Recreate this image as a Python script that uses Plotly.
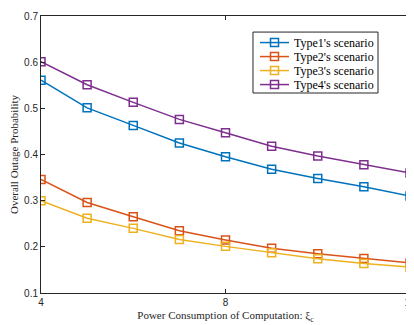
import plotly.graph_objects as go

x_vals = [4, 5, 6, 7, 8, 9, 10, 11, 12]
type1 = [0.561, 0.501, 0.463, 0.425, 0.395, 0.368, 0.348, 0.330, 0.310]
type2 = [0.346, 0.296, 0.265, 0.235, 0.215, 0.197, 0.185, 0.175, 0.165]
type3 = [0.300, 0.262, 0.240, 0.216, 0.201, 0.187, 0.174, 0.164, 0.156]
type4 = [0.601, 0.551, 0.513, 0.476, 0.447, 0.418, 0.397, 0.378, 0.360]
names = ["Type1's scenario", "Type2's scenario", "Type3's scenario", "Type4's scenario"]
colors = ["#0072BD", "#D95319", "#EDB120", "#7E2F8E"]

fig = go.Figure()
for name, ys, c in zip(names, [type1, type2, type3, type4], colors):
    fig.add_trace(go.Scatter(
        x=x_vals, y=ys, name=name, mode="lines+markers", showlegend=False,
        line=dict(color=c, width=1.5),
        marker=dict(symbol="square-open", size=8, color=c, line=dict(width=1.5, color=c)),
    ))

axis_common = dict(
    showline=True, mirror="ticks", linecolor="#262626", linewidth=1,
    ticks="inside", ticklen=4, tickcolor="#262626", showgrid=False, zeroline=False,
    tickfont=dict(family="Liberation Sans, Arial", size=10, color="#262626"),
    automargin=False, ticklabeloverflow="allow",
)

# custom MATLAB-style legend box (paper coordinates)
shapes = []
annotations = []
plot_w, plot_h = 369.0, 277.0
box = dict(x0=0.5745, x1=0.9133, y0=0.722, y1=0.942)
shapes.append(dict(type="rect", xref="paper", yref="paper", layer="above",
                   fillcolor="white", line=dict(color="#262626", width=1), **box))
row_top = 0.942 - 10.5 / plot_h
row_step = 14.0 / plot_h
mx = 0.6328
hx, hy = 4.0 / plot_w, 4.0 / plot_h
for i, (name, c) in enumerate(zip(names, colors)):
    yy = row_top - i * row_step
    shapes.append(dict(type="line", xref="paper", yref="paper", layer="above",
                       x0=0.5935, x1=0.672, y0=yy, y1=yy, line=dict(color=c, width=1.5)))
    shapes.append(dict(type="rect", xref="paper", yref="paper", layer="above",
                       x0=mx - hx, x1=mx + hx, y0=yy - hy, y1=yy + hy,
                       fillcolor="rgba(0,0,0,0)", line=dict(color=c, width=1.5)))
    annotations.append(dict(xref="paper", yref="paper", x=0.681, y=yy, text=name,
                            showarrow=False, xanchor="left", yanchor="middle",
                            font=dict(family="Liberation Serif, Times New Roman", size=12, color="black")))

fig.update_layout(
    width=406, height=317,
    margin=dict(l=33, r=4, t=8, b=32, autoexpand=False),
    paper_bgcolor="white", plot_bgcolor="white",
    xaxis=dict(range=[4, 12], tickvals=[4, 8, 12],
               title=dict(text="Power Consumption of Computation: ξ<sub>c</sub>",
                          font=dict(family="Liberation Serif, Times New Roman", size=11, color="#262626"),
                          standoff=4),
               **axis_common),
    yaxis=dict(range=[0.1, 0.7], tickvals=[0.1, 0.2, 0.3, 0.4, 0.5, 0.6, 0.7],
               tickformat=".1f",
               title=dict(text="Overall Outage Probability",
                          font=dict(family="Liberation Serif, Times New Roman", size=11, color="#262626"),
                          standoff=6),
               **axis_common),
    shapes=shapes,
    annotations=annotations,
    showlegend=False,
)

fig.write_html("out.html")
